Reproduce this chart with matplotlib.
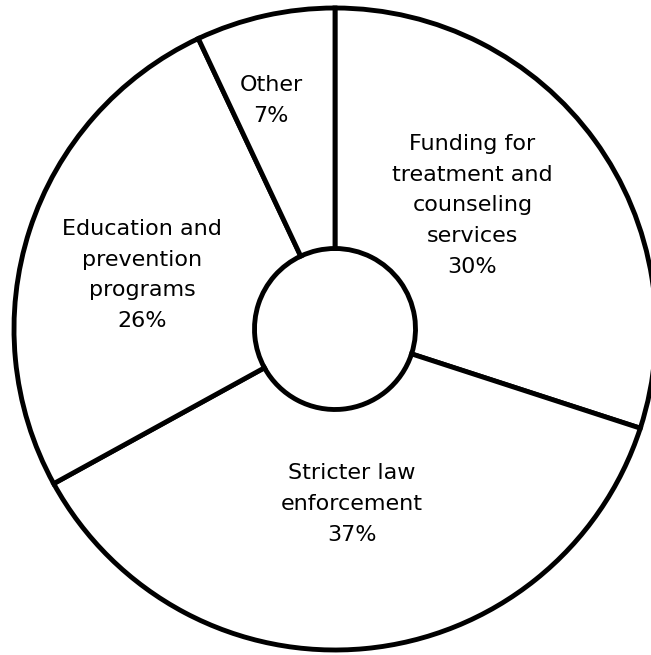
import numpy as np
import matplotlib.pyplot as plt

# --- Data ---
labels = ['Funding for\ntreatment and\ncounseling\nservices', 'Stricter law\nenforcement',
          'Education and\nprevention\nprograms', 'Other']
values = [30, 37, 26, 7]

# label placement: distance from centre (fraction of radius) and angle tweak (deg)
label_r = [0.576, 0.547, 0.624, 0.74]
label_dang = [6, 0, 2.4, 3]

fig = plt.figure(figsize=(6.51, 6.55), dpi=100)
ax = fig.add_axes([0, 0, 1, 1])

wedges, _ = ax.pie(values, startangle=90, counterclock=False, radius=1.0,
                   colors=['white'] * len(values),
                   wedgeprops=dict(width=1 - 80.5 / 321, edgecolor='black', linewidth=3.5))

for w, lab, v, r, da in zip(wedges, labels, values, label_r, label_dang):
    ang = np.deg2rad((w.theta1 + w.theta2) / 2 + da)
    ax.text(r * np.cos(ang), r * np.sin(ang), f'{lab}\n{v}%', ha='center', va='center',
            fontsize=16, linespacing=1.67, family='DejaVu Sans')

ax.set_aspect('auto')
ax.set_xlim(-335 / 321, 316 / 321)
ax.set_ylim(-326 / 321, 329 / 321)
ax.axis('off')

fig.savefig('out.png', dpi=100, facecolor='white')
